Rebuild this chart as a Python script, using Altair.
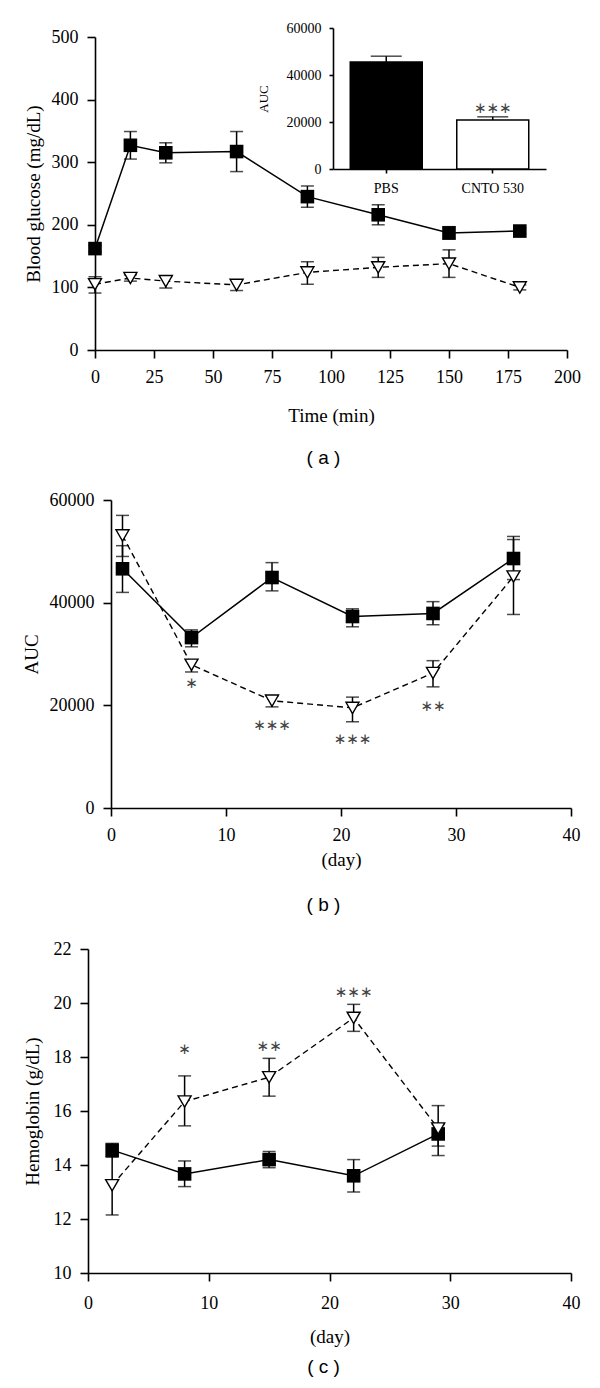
import altair as alt
import pandas as pd

SERIF = "Liberation Serif"
SANS = "Liberation Sans"
STAR_FONT = "DejaVu Sans"

# ---------------- Panel (a): blood glucose ----------------
a_time = [0, 15, 30, 60, 90, 120, 150, 180]
a_pbs = [162, 327, 315, 317, 245, 216, 187, 190]
a_pbs_lo = [157, 305, 299, 285, 228, 200, 177, 186]
a_pbs_hi = [167, 349, 331, 349, 262, 232, 197, 195]
a_cnto = [105, 115, 110, 104, 124, 132, 138, 100]
a_cnto_lo = [91, 110, 99, 95, 105, 116, 116, 96]
a_cnto_hi = [117, 120, 117, 112, 141, 148, 160, 104]

# inset: AUC bars
inset_groups = ["PBS", "CNTO 530"]
inset_auc = [45500, 20900]
inset_hi = [48000, 22200]
inset_star = ["", "∗∗∗"]
inset_star_y = [0, 26000]

# ---------------- Panel (b): AUC over days ----------------
b_day = [1, 7, 14, 21, 28, 35]
b_pbs = [46600, 33200, 44900, 37300, 37900, 48600]
b_pbs_lo = [42000, 31400, 42300, 35300, 35700, 44500]
b_pbs_hi = [51100, 34700, 47800, 38800, 40200, 52900]
b_cnto = [53100, 27900, 20900, 19500, 26300, 45100]
b_cnto_lo = [49000, 26500, 19700, 16800, 23600, 37700]
b_cnto_hi = [57000, 28800, 21800, 21600, 28700, 52300]
b_star_day = [7, 14, 21, 28]
b_star_txt = ["∗", "∗∗∗", "∗∗∗", "∗∗"]
b_star_y = [24400, 16200, 13500, 19900]

# ---------------- Panel (c): hemoglobin ----------------
c_day = [2, 8, 15, 22, 29]
c_pbs = [14.55, 13.67, 14.2, 13.6, 15.15]
c_pbs_lo = [14.3, 13.2, 13.9, 13.0, 14.7]
c_pbs_hi = [14.8, 14.15, 14.5, 14.2, 15.5]
c_cnto = [13.25, 16.35, 17.25, 19.45, 15.35]
c_cnto_lo = [12.15, 15.45, 16.55, 18.95, 14.35]
c_cnto_hi = [14.3, 17.3, 17.95, 19.95, 16.2]
c_star_day = [8, 15, 22]
c_star_txt = ["∗", "∗∗", "∗∗∗"]
c_star_y = [18.3, 18.4, 20.4]

W = 483  # common cell width (plot left edge of panel c)


def series_df(x, y, lo, hi):
    return pd.DataFrame({"x": x, "y": y, "lo": lo, "hi": hi})


def panel(x_vals, pbs, pbs_lo, pbs_hi, cnto, cnto_lo, cnto_hi,
          xscale, yscale, xaxis, yaxis, stars=None):
    d_p = series_df(x_vals, pbs, pbs_lo, pbs_hi)
    d_c = series_df(x_vals, cnto, cnto_lo, cnto_hi)
    X = alt.X("x:Q", scale=xscale, axis=xaxis)
    Yf = lambda f: alt.Y(f"{f}:Q", scale=yscale, axis=yaxis)
    layers = []
    for d in (d_p, d_c):
        layers.append(alt.Chart(d).mark_rule(color="black", strokeWidth=1.5)
                      .encode(x=X, y=Yf("lo"), y2="hi:Q"))
        for f in ("lo", "hi"):
            layers.append(alt.Chart(d).mark_tick(orient="horizontal", size=13,
                                                 thickness=1.5, color="black")
                          .encode(x=X, y=Yf(f)))
    layers.append(alt.Chart(d_p).mark_line(color="black", strokeWidth=1.5)
                  .encode(x=X, y=Yf("y")))
    layers.append(alt.Chart(d_c).mark_line(color="black", strokeWidth=1.4,
                                           strokeDash=[6, 4])
                  .encode(x=X, y=Yf("y")))
    layers.append(alt.Chart(d_p).mark_point(shape="square", filled=True,
                                            size=185, color="black", opacity=1)
                  .encode(x=X, y=Yf("y")))
    layers.append(alt.Chart(d_c).mark_point(shape="triangle-down", filled=True,
                                            fill="white", stroke="black",
                                            strokeWidth=1.4, size=170, opacity=1)
                  .encode(x=X, y=Yf("y")))
    if stars is not None:
        sd = pd.DataFrame({"x": stars[0], "t": stars[1], "y": stars[2]})
        layers.append(alt.Chart(sd).mark_text(font=STAR_FONT, fontSize=15,
                                              color="#444", baseline="middle")
                      .encode(x=X, y=Yf("y"), text="t:N"))
    return alt.layer(*layers)


def yax(title, values, offset, fmt=None, tpad=8):
    kw = dict(title=title, values=values, offset=offset, titlePadding=tpad,
              labelFlush=False, labelOverlap=False, titleFontWeight="normal")
    if fmt:
        kw["format"] = fmt
    return alt.Axis(**kw)


def xax(title, values, lpad=10, tpad=8):
    return alt.Axis(title=title, values=values, labelFlush=False,
                    labelOverlap=False, labelPadding=lpad, titlePadding=tpad,
                    titleFontWeight="normal")


def ptitle(txt, offset):
    return alt.TitleParams(txt, orient="bottom", anchor="middle", frame="group",
                           font=SANS, fontSize=19, fontWeight="normal",
                           color="black", offset=offset, dx=-6)


# ----- panel a -----
a_main = panel(a_time, a_pbs, a_pbs_lo, a_pbs_hi, a_cnto, a_cnto_lo, a_cnto_hi,
               alt.Scale(domain=[0, 200], range=[7, 479], nice=False, zero=False),
               alt.Scale(domain=[0, 500], nice=False),
               xax("Time (min)", [0, 25, 50, 75, 100, 125, 150, 175, 200],
                   lpad=10, tpad=20),
               yax("Blood glucose (mg/dL)", [0, 100, 200, 300, 400, 500], -7))

inset_df = pd.DataFrame({"g": inset_groups, "v": inset_auc, "hi": inset_hi,
                         "s": inset_star, "sy": inset_star_y})
ix = alt.Scale(domain=inset_groups, range=[245, 458], paddingInner=0.324,
               paddingOuter=0.162)
iy = alt.Scale(domain=[0, 60000], range=[132, -9], nice=False)
ix_axis = alt.Axis(title=None, orient="bottom", offset=-181, labelAngle=0,
                   labelFontSize=14, tickSize=4, labelPadding=8)
iy_axis = alt.Axis(title="AUC", orient="left", offset=-245,
                   values=[0, 20000, 40000, 60000], format="d",
                   labelFontSize=14, titleFontSize=13, tickSize=4,
                   labelPadding=8, titlePadding=16, labelFlush=False,
                   titleFontWeight="normal")
IX = alt.X("g:N", scale=ix, axis=ix_axis, sort=inset_groups)
IY = lambda f: alt.Y(f"{f}:Q", scale=iy, axis=iy_axis)
inset_base = alt.Chart(inset_df)
inset = alt.layer(
    inset_base.mark_rule(color="black", strokeWidth=1.5).encode(
        x=IX, y=IY("v"), y2="hi:Q"),
    inset_base.mark_tick(orient="horizontal", size=31, thickness=1.5,
                         color="black").encode(x=IX, y=IY("hi")),
    inset_base.mark_bar(stroke="black", strokeWidth=1.5).encode(
        x=IX, y=IY("v"),
        color=alt.Color("g:N", scale=alt.Scale(domain=inset_groups,
                                               range=["black", "white"]),
                        legend=None)),
    inset_base.mark_text(font=STAR_FONT, fontSize=15, color="#444",
                         baseline="middle").encode(
        x=IX, y=IY("sy"), text="s:N"),
)

chart_a = alt.layer(a_main, inset).resolve_scale(
    x="independent", y="independent").properties(
    width=W, height=313, title=ptitle("( a )", 24))

# ----- panel b -----
chart_b = panel(b_day, b_pbs, b_pbs_lo, b_pbs_hi, b_cnto, b_cnto_lo, b_cnto_hi,
                alt.Scale(domain=[0, 40], range=[23, 483], nice=False, zero=False),
                alt.Scale(domain=[0, 60000], range=[317, 9], nice=False),
                xax("(day)", [0, 10, 20, 30, 40], lpad=10, tpad=6),
                yax("AUC", [0, 20000, 40000, 60000], -23, fmt="d"),
                stars=(b_star_day, b_star_txt, b_star_y)).properties(
    width=W, height=317, title=ptitle("( b )", 27))

# ----- panel c -----
chart_c = panel(c_day, c_pbs, c_pbs_lo, c_pbs_hi, c_cnto, c_cnto_lo, c_cnto_hi,
                alt.Scale(domain=[0, 40], range=[0, 483], nice=False, zero=False),
                alt.Scale(domain=[10, 22], nice=False, zero=False),
                xax("(day)", [0, 10, 20, 30, 40], lpad=13, tpad=15),
                yax("Hemoglobin (g/dL)", [10, 12, 14, 16, 18, 20, 22], 0, tpad=11),
                stars=(c_star_day, c_star_txt, c_star_y)).properties(
    width=W, height=324, title=ptitle("( c )", 12))

chart = alt.vconcat(chart_a, chart_b, chart_c, spacing=141, bounds="flush").properties(
    padding={"left": 14, "top": 13, "right": 5, "bottom": 5},
    background="white",
).configure_view(stroke=None).configure_axis(
    domainColor="black", domainWidth=1.6, tickColor="black", tickWidth=1.6,
    tickSize=8, labelFont=SERIF, labelFontSize=18, labelColor="black",
    titleFont=SERIF, titleFontSize=19, titleFontWeight="normal",
    titleColor="black", grid=False, labelPadding=9,
)

chart.save("out.html", embed_options={"renderer": "svg", "actions": False})
